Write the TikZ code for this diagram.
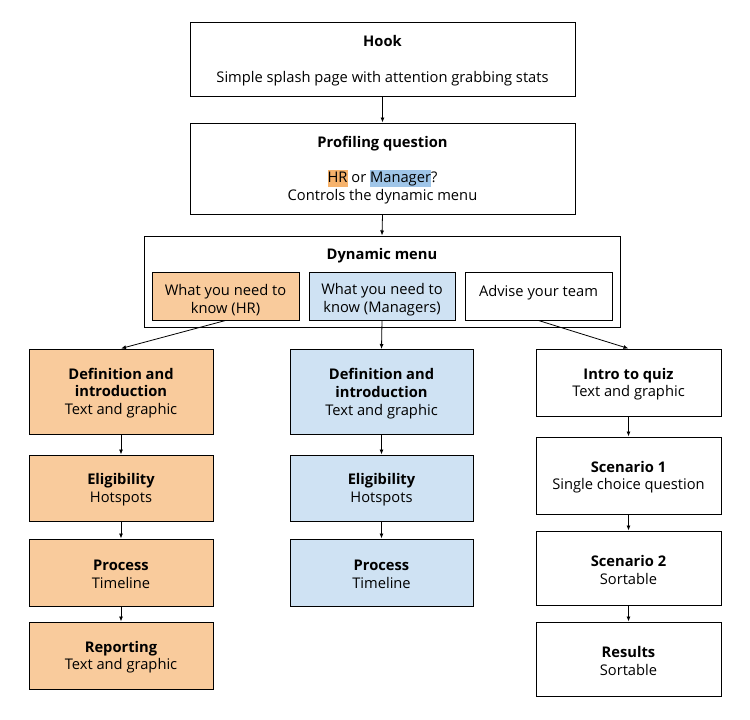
\documentclass[tikz,border=0pt]{standalone}
\usepackage{fontspec}
\setmainfont{Open Sans}
\usetikzlibrary{arrows.meta}
\definecolor{orangefill}{HTML}{F9CB9C}
\definecolor{bluefill}{HTML}{CFE2F3}
\definecolor{hrhl}{HTML}{F6B26B}
\definecolor{mghl}{HTML}{9FC5E8}
\newcommand{\hlword}[2]{{\setlength{\fboxsep}{0pt}\colorbox{#1}{\rule[-4.5pt]{0pt}{17.5pt}#2}}}
\newcommand{\fs}{\rule{0pt}{14.5pt}}
\newcommand{\ms}{\rule{0pt}{19pt}}
\begin{document}
\begin{tikzpicture}[x=1pt,y=-1pt,
  box/.style={draw, line width=1pt, align=center, inner sep=0pt,
    font=\fontsize{14.7}{17.8}\selectfont},
  orangebox/.style={box, fill=orangefill},
  bluebox/.style={box, fill=bluefill},
  arr/.style={-{Latex[length=5pt,width=4pt]}, line width=0.8pt},
  lbl/.style={inner sep=0pt, font=\fontsize{14.7}{17.8}\selectfont}]
\useasboundingbox (0,0) rectangle (750,720);
% top
\node[box, minimum width=385, minimum height=74] (hook) at (382.5,59)
  {\fs\textbf{Hook}\\[17.8pt]Simple splash page with attention grabbing stats};
\node[box, minimum width=385, minimum height=91] (prof) at (382.5,168.5)
  {\fs\textbf{Profiling question}\\[17.8pt]\hlword{hrhl}{HR} or \hlword{mghl}{Manager}?\\Controls the dynamic menu};
% dynamic menu
\node[box, minimum width=476, minimum height=91] (dm) at (382,281.5) {};
\node[lbl] (dmt) at (382,256) {\textbf{Dynamic menu}};
\node[box, fill=orangefill, minimum width=147, minimum height=48] (mhr) at (225.5,296)
  {\ms What you need to\\know (HR)};
\node[box, fill=bluefill, minimum width=146, minimum height=48] (mmg) at (382,296)
  {\ms What you need to\\know (Managers)};
\node[box, minimum width=147, minimum height=48] (madv) at (538.5,296)
  {\ms Advise your team\\\mbox{}};
% left column
\node[orangebox, minimum width=184, minimum height=85] (l1) at (121,391.5)
  {\fs\textbf{Definition and}\\\textbf{introduction}\\Text and graphic};
\node[orangebox, minimum width=184, minimum height=66] (l2) at (121,488)
  {\fs\textbf{Eligibility}\\Hotspots};
\node[orangebox, minimum width=184, minimum height=67] (l3) at (121,572.5)
  {\fs\textbf{Process}\\Timeline};
\node[orangebox, minimum width=184, minimum height=67] (l4) at (121,655.5)
  {\fs\textbf{Reporting}\\Text and graphic};
% middle column
\node[bluebox, minimum width=183, minimum height=85] (m1) at (381.5,392)
  {\fs\textbf{Definition and}\\\textbf{introduction}\\Text and graphic};
\node[bluebox, minimum width=183, minimum height=66] (m2) at (381.5,488)
  {\fs\textbf{Eligibility}\\Hotspots};
\node[bluebox, minimum width=183, minimum height=67] (m3) at (381.5,572.5)
  {\fs\textbf{Process}\\Timeline};
% right column
\node[box, minimum width=185, minimum height=67] (r1) at (628.5,382.5)
  {\fs\textbf{Intro to quiz}\\Text and graphic};
\node[box, minimum width=185, minimum height=77] (r2) at (628.5,475.5)
  {\fs\textbf{Scenario 1}\\Single choice question};
\node[box, minimum width=185, minimum height=74] (r3) at (628.5,568)
  {\fs\textbf{Scenario 2}\\Sortable};
\node[box, minimum width=185, minimum height=74] (r4) at (628.5,659)
  {\fs\textbf{Results}\\Sortable};
% connectors
\draw[arr] (hook.south) -- (prof.north);
\draw[arr] (prof.south) -- (dm.north);
\draw[arr] (mhr.south) -- (l1.north);
\draw[arr] (mmg.south) -- (m1.north);
\draw[arr] (madv.south) -- (r1.north);
\draw[arr] (l1.south) -- (l2.north);
\draw[arr] (l2.south) -- (l3.north);
\draw[arr] (l3.south) -- (l4.north);
\draw[arr] (m1.south) -- (m2.north);
\draw[arr] (m2.south) -- (m3.north);
\draw[arr] (r1.south) -- (r2.north);
\draw[arr] (r2.south) -- (r3.north);
\draw[arr] (r3.south) -- (r4.north);
\end{tikzpicture}
\end{document}
